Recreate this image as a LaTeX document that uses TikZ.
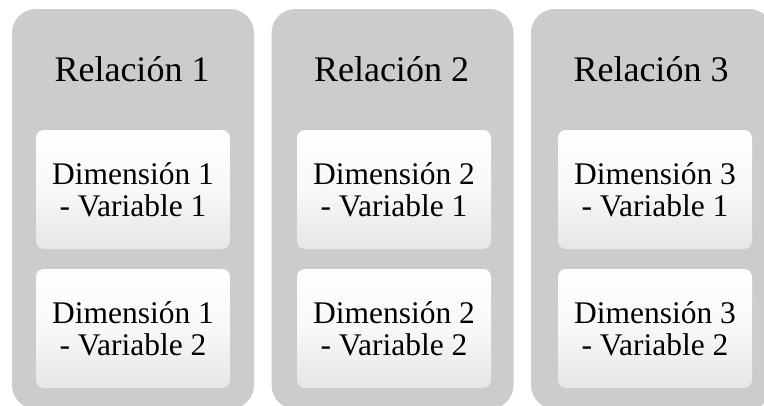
\documentclass[tikz,border=0pt]{standalone}
\usepackage{fontspec}
\setmainfont{Liberation Serif}
\definecolor{colgrey}{RGB}{204,204,204}
\definecolor{boxlow}{RGB}{230,230,230}
\definecolor{boxmid}{RGB}{248,248,248}
\tikzset{
  column/.style={fill=colgrey, draw=none, rounded corners=24pt,
    minimum width=242pt, minimum height=400pt, inner sep=0pt},
  title/.style={anchor=base, inner sep=0pt, font=\fontsize{36}{43}\selectfont},
  item/.style={draw=none, rounded corners=8pt, minimum width=194pt,
    minimum height=119pt, inner sep=0pt, align=center,
    top color=white, bottom color=boxlow, middle color=boxmid,
    font=\fontsize{31.5}{32}\selectfont},
}
\begin{document}
\begin{tikzpicture}[x=1pt, y=-1pt]
  \useasboundingbox (0,0) rectangle (764,405);
  \clip (0,0) rectangle (764,405);
  \fill[white] (0,0) rectangle (764,405);
  % three relation columns
  \node[column] (c1) at (133,209) {};
  \node[column] (c2) at (392.5,209) {};
  \node[column] (c3) at (652,209) {};
  % column titles
  \node[title] (t1) at (132,81) {Relación 1};
  \node[title] (t2) at (391.5,81) {Relación 2};
  \node[title] (t3) at (651,81) {Relación 3};
  % dimension / variable boxes
  \node[item] (d11) at (133,189.5) {Dimensión 1\\- Variable 1};
  \node[item] (d12) at (133,328.5) {Dimensión 1\\- Variable 2};
  \node[item] (d21) at (394,189.5) {Dimensión 2\\- Variable 1};
  \node[item] (d22) at (394,328.5) {Dimensión 2\\- Variable 2};
  \node[item] (d31) at (655,189.5) {Dimensión 3\\- Variable 1};
  \node[item] (d32) at (655,328.5) {Dimensión 3\\- Variable 2};
\end{tikzpicture}
\end{document}
